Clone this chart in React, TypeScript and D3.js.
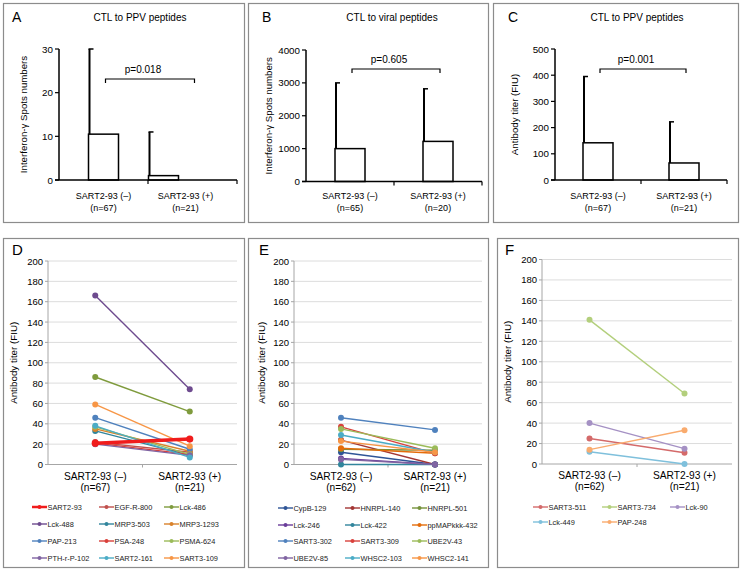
import React from 'react';
import * as d3 from 'd3';

// ---- data ----
const groups = ['SART2-93 (–)', 'SART2-93 (+)'];

const ctlPpvN = ['(n=67)', '(n=21)'];
const ctlViralN = ['(n=65)', '(n=20)'];
const antibodyN = ['(n=67)', '(n=21)'];

const ctlPpvMean = [10.5, 1];
const ctlPpvUpper = [30, 11];
const ctlViralMean = [1000, 1220];
const ctlViralUpper = [3000, 2820];
const antibodyMean = [142, 65];
const antibodyUpper = [395, 222];

const ctlPpvTicks = [0, 10, 20, 30];
const ctlViralTicks = [0, 1000, 2000, 3000, 4000];
const antibodyTicks = [0, 100, 200, 300, 400, 500];

const titerTicks = [0, 20, 40, 60, 80, 100, 120, 140, 160, 180, 200];

const dNames = ['SART2-93', 'EGF-R-800', 'Lck-486', 'Lck-488', 'MRP3-503', 'MRP3-1293',
  'PAP-213', 'PSA-248', 'PSMA-624', 'PTH-r-P-102', 'SART2-161', 'SART3-109'];
const dBefore = [21, 22, 86, 166, 33, 35, 46, 21, 37, 20, 38, 59];
const dAfter = [25, 12, 52, 74, 9, 13, 15, 10, 10, 9, 7, 18];
const dColors = ['#f01c1c', '#c0504d', '#7f9b3d', '#6e4b8f', '#31859c', '#d9822b',
  '#4f81bd', '#d9403a', '#9bbb59', '#8064a2', '#4bacc6', '#f79646'];
const dN = ['(n=67)', '(n=21)'];

const eNames = ['CypB-129', 'HNRPL-140', 'HNRPL-501', 'Lck-246', 'Lck-422', 'ppMAPkkk-432',
  'SART3-302', 'SART3-309', 'UBE2V-43', 'UBE2V-85', 'WHSC2-103', 'WHSC2-141'];
const eBefore = [12, 24, 15, 6, 0, 16, 46, 37, 35, 5, 29, 23];
const eAfter = [0, 0, 14, 0, 0, 11, 34, 11, 16, 0, 12, 12];
const eColors = ['#2f5597', '#a33634', '#76923c', '#6a3d9a', '#31859c', '#e46c0a',
  '#4f81bd', '#d9413c', '#9bbb59', '#8064a2', '#4bacc6', '#f79646'];
const eN = ['(n=62)', '(n=21)'];

const fNames = ['SART3-511', 'SART3-734', 'Lck-90', 'Lck-449', 'PAP-248'];
const fBefore = [25, 141, 40, 12, 14];
const fAfter = [11, 69, 15, 0, 33];
const fColors = ['#d46a6a', '#b3cf7c', '#a591c4', '#7fc0dc', '#f9ab6e'];
const fN = ['(n=62)', '(n=21)'];

const FONT = '"Liberation Sans", Arial, Helvetica, sans-serif';

function Box({ box }) {
  return <rect x={box.x + 0.5} y={box.y + 0.5} width={box.w} height={box.h}
    fill="white" stroke="#8c8c8c" strokeWidth={1.2} />;
}

function BarPanel({ box, letter, letterX, title, titleX, yLabel, yLabelX, ticks, mean, upper, n,
  pText, axis, bracketY, barShift = [0, 0], labelShift = [0, 0] }) {
  const x = d3.scaleBand().domain(groups).range([axis.left, axis.right]);
  const y = d3.scaleLinear().domain([0, ticks[ticks.length - 1]]).range([axis.bottom, axis.top]);
  const bw = 30;
  const cx = g => x(g) + x.bandwidth() / 2;
  const bx0 = cx(groups[0]) + 2;
  const bx1 = cx(groups[1]) + 2;
  return (
    <g fontFamily={FONT}>
      <Box box={box} />
      <text x={letterX} y={22} fontSize={14}>{letter}</text>
      <text x={titleX} y={21} fontSize={10} textAnchor="middle">{title}</text>
      <text transform={`translate(${yLabelX},${(axis.top + axis.bottom) / 2}) rotate(-90)`}
        fontSize={9.7} textAnchor="middle" dominantBaseline="central">{yLabel}</text>
      {groups.map((g, i) => {
        const left = cx(g) - bw / 2 + barShift[i];
        const ex = left + 1;
        return (
          <g key={g}>
            <rect x={left} y={y(mean[i])} width={bw} height={axis.bottom - y(mean[i])}
              fill="white" stroke="#000" strokeWidth={1.5} />
            <line x1={ex} x2={ex} y1={y(mean[i])} y2={y(upper[i])} stroke="#000" strokeWidth={2} />
            <line x1={ex - 1} x2={ex + 4} y1={y(upper[i])} y2={y(upper[i])} stroke="#000" strokeWidth={1.5} />
            <text x={cx(g) + labelShift[i]} y={199} fontSize={9} textAnchor="middle">{g}</text>
            <text x={cx(g) + labelShift[i]} y={211} fontSize={9} textAnchor="middle">{n[i]}</text>
          </g>
        );
      })}
      <line x1={axis.left} x2={axis.left} y1={axis.bottom} y2={axis.top} stroke="#000" strokeWidth={1.5} />
      <line x1={axis.left - 4} x2={axis.right} y1={axis.bottom} y2={axis.bottom} stroke="#000" strokeWidth={1.5} />
      {ticks.map(t => (
        <g key={t}>
          <line x1={axis.left - 4} x2={axis.left} y1={y(t)} y2={y(t)} stroke="#000" strokeWidth={1.2} />
          <text x={axis.left - 6} y={y(t)} fontSize={9.8} textAnchor="end" dominantBaseline="central">{t}</text>
        </g>
      ))}
      {[axis.left + x.bandwidth(), axis.right].map(v => (
        <line key={v} x1={v} x2={v} y1={axis.bottom} y2={axis.bottom + 4} stroke="#000" strokeWidth={1.2} />
      ))}
      <path d={`M${bx0},${bracketY + 4}V${bracketY}H${bx1}V${bracketY + 4}`} fill="none" stroke="#000" strokeWidth={1.2} />
      <text x={(bx0 + bx1) / 2 - 7} y={bracketY - 6} fontSize={10} textAnchor="middle">{pText}</text>
    </g>
  );
}

function LinePanel({ box, letter, letterX, yLabelX, names, before, after, colors, n, axis, legend, thick = [] }) {
  const x = d3.scalePoint().domain(groups).range([axis.left, axis.right]).padding(0.5);
  const y = d3.scaleLinear().domain([0, 200]).range([axis.bottom, axis.top]);
  const line = d3.line().x(d => x(d[0])).y(d => y(d[1]));
  const order = names.map((_, i) => i).sort((a, b) => (thick.includes(a) ? 1 : 0) - (thick.includes(b) ? 1 : 0));
  return (
    <g fontFamily={FONT}>
      <Box box={box} />
      <text x={letterX} y={255} fontSize={15}>{letter}</text>
      {titerTicks.filter(t => t > 0).map(t => (
        <line key={t} x1={axis.left} x2={axis.right} y1={y(t)} y2={y(t)} stroke="#dcdcdc" strokeWidth={1} />
      ))}
      <line x1={axis.left} x2={axis.left} y1={axis.bottom} y2={axis.top} stroke="#a6a6a6" strokeWidth={1} />
      <line x1={axis.left} x2={axis.right} y1={axis.bottom} y2={axis.bottom} stroke="#a6a6a6" strokeWidth={1} />
      {titerTicks.map(t => (
        <g key={t}>
          <line x1={axis.left - 3} x2={axis.left} y1={y(t)} y2={y(t)} stroke="#a6a6a6" />
          <text x={axis.left - 5} y={y(t)} fontSize={9.5} textAnchor="end" dominantBaseline="central">{t}</text>
        </g>
      ))}
      <line x1={(axis.left + axis.right) / 2} x2={(axis.left + axis.right) / 2} y1={axis.bottom} y2={axis.bottom + 3} stroke="#a6a6a6" />
      <text transform={`translate(${yLabelX},${(axis.top + axis.bottom) / 2}) rotate(-90)`}
        fontSize={9.8} textAnchor="middle" dominantBaseline="central">Antibody titer (FIU)</text>
      {groups.map((g, i) => (
        <g key={g}>
          <text x={x(g)} y={axis.bottom + 15} fontSize={10.2} textAnchor="middle">{g}</text>
          <text x={x(g)} y={axis.bottom + 26} fontSize={10.2} textAnchor="middle">{n[i]}</text>
        </g>
      ))}
      {order.map(i => {
        const pts = [[groups[0], before[i]], [groups[1], after[i]]];
        const w = thick.includes(i) ? 3.5 : 1.4;
        return (
          <g key={names[i]}>
            <path d={line(pts)} fill="none" stroke={colors[i]} strokeWidth={w} />
            {pts.map(p => (
              <circle key={p[0]} cx={x(p[0])} cy={y(p[1])} r={thick.includes(i) ? 3.6 : 3} fill={colors[i]} />
            ))}
          </g>
        );
      })}
      {names.map((name, i) => {
        const col = i % 3;
        const row = Math.floor(i / 3);
        const lx = legend.cols[col];
        const ly = legend.rows[row];
        return (
          <g key={name}>
            <line x1={lx} x2={lx + 15} y1={ly} y2={ly} stroke={colors[i]} strokeWidth={thick.includes(i) ? 2.5 : 1.4} />
            <circle cx={lx + 7.5} cy={ly} r={2} fill={colors[i]} />
            <text x={lx + 15.5} y={ly} fontSize={7.4} fill="#222" dominantBaseline="central">{name}</text>
          </g>
        );
      })}
    </g>
  );
}

export default function App() {
  return (
    <div style={{ position: 'absolute', left: 0, top: 0 }}>
      <svg width={741} height={571} style={{ display: 'block', background: 'white' }}>
        <BarPanel box={{ x: 3, y: 3, w: 241, h: 219 }} letter="A" letterX={12}
          title="CTL to PPV peptides" titleX={140} yLabel="Interferon-γ Spots numbers" yLabelX={23}
          ticks={ctlPpvTicks} mean={ctlPpvMean} upper={ctlPpvUpper} n={ctlPpvN} pText="p=0.018"
          axis={{ left: 59, right: 237, top: 49, bottom: 180 }} bracketY={79}
          barShift={[0, -29]} labelShift={[0, -7]} />
        <BarPanel box={{ x: 248, y: 3, w: 240, h: 219 }} letter="B" letterX={262}
          title="CTL to viral peptides" titleX={392} yLabel="Interferon-γ Spots numbers" yLabelX={268.5}
          ticks={ctlViralTicks} mean={ctlViralMean} upper={ctlViralUpper} n={ctlViralN} pText="p=0.605"
          axis={{ left: 306, right: 482, top: 50, bottom: 181.5 }} bracketY={69} />
        <BarPanel box={{ x: 493, y: 3, w: 245, h: 219 }} letter="C" letterX={508}
          title="CTL to PPV peptides" titleX={637} yLabel="Antibody titer (FIU)" yLabelX={514}
          ticks={antibodyTicks} mean={antibodyMean} upper={antibodyUpper} n={antibodyN} pText="p=0.001"
          axis={{ left: 555, right: 727, top: 49, bottom: 180 }} bracketY={69} />

        <LinePanel box={{ x: 3, y: 238, w: 241, h: 329 }} letter="D" letterX={12} yLabelX={13}
          names={dNames} before={dBefore} after={dAfter} colors={dColors} n={dN} thick={[0]}
          axis={{ left: 48, right: 237, top: 261, bottom: 464.5 }}
          legend={{ cols: [32, 99, 164], rows: [507, 524, 541, 558] }} />
        <LinePanel box={{ x: 248, y: 238, w: 240, h: 329 }} letter="E" letterX={259} yLabelX={261}
          names={eNames} before={eBefore} after={eAfter} colors={eColors} n={eN}
          axis={{ left: 294, right: 482, top: 261, bottom: 464.5 }}
          legend={{ cols: [278, 345, 412], rows: [508, 525, 541, 558] }} />
        <LinePanel box={{ x: 497, y: 238, w: 241, h: 329 }} letter="F" letterX={505} yLabelX={507}
          names={fNames} before={fBefore} after={fAfter} colors={fColors} n={fN}
          axis={{ left: 542, right: 732, top: 259.5, bottom: 464 }}
          legend={{ cols: [533, 602, 670], rows: [507, 522] }} />
      </svg>
    </div>
  );
}
